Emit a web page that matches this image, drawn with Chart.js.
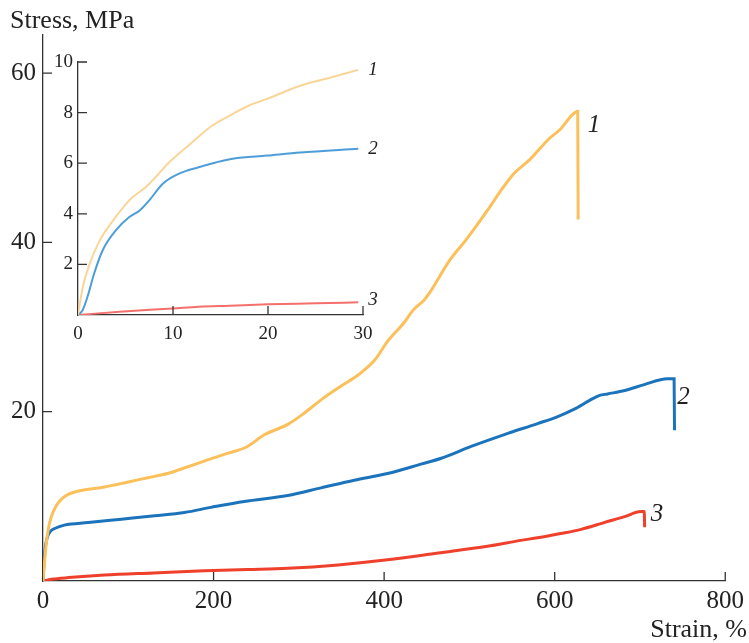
<!DOCTYPE html>
<html>
<head>
<meta charset="utf-8">
<script src="https://cdn.jsdelivr.net/npm/chart.js@4.4.1/dist/chart.umd.min.js"></script>
<style>
html,body{margin:0;padding:0;background:#fff;}
#wrap{position:relative;width:749px;height:643px;}
#main{position:absolute;left:0;top:0;}
#inset{position:absolute;left:40px;top:40px;}
</style>
</head>
<body>
<div id="wrap">
<canvas id="main" width="749" height="643"></canvas>
<canvas id="inset" width="360" height="310"></canvas>
</div>
<script>
/* ===== data ===== */
// main plot, strain %, stress MPa
const strain1=[0,2,3.9,6.5,9.8,13.5,17.6,23,29,45,72,100,123,146,170,193,217,238,260,287,306,326,349,369,389,404,424,434,447,453,477,496,524,536,551,571,594,606,620,627,627.5];
const stress1=[0,2.5,4.5,6.3,7.6,8.5,9.2,9.8,10.2,10.7,11.1,11.7,12.2,12.7,13.5,14.3,15.1,15.8,17.3,18.5,19.8,21.4,23.0,24.3,26.1,28.3,30.6,32.0,33.2,34.0,37.9,40.3,44.2,46.0,48.0,49.8,52.3,53.3,55.0,55.5,42.7];

const strain2=[0,1,2,3.5,5.9,9,13.7,25,53,92,131,166,197,236,287,326,365,404,443,467,502,541,580,603,623,642,652,662,682,705,732,740,740.5];
const stress2=[0,2,3.3,4.5,5.4,5.9,6.2,6.6,6.9,7.3,7.7,8.1,8.7,9.4,10.1,11.0,11.9,12.7,13.8,14.5,15.9,17.3,18.6,19.4,20.3,21.4,21.9,22.1,22.5,23.2,23.9,23.9,17.8];

const strain3=[0,10,30,72,130,189,240,287,346,404,463,521,560,580,607,631,658,682,701,705,705.5];
const stress3=[0,0.2,0.4,0.7,0.95,1.2,1.35,1.5,1.9,2.5,3.3,4.1,4.8,5.1,5.6,6.1,6.9,7.6,8.2,8.2,6.35];

// inset, first 30 %
const inStrain1=[0,0.5,1.2,2.3,3.7,5.4,7.5,9.6,10.6,12.0,14,16.3,18,19.9,23.4,26.8,29.5];
const inStress1=[0,1.1,2.0,2.95,3.74,4.53,5.18,6.04,6.37,6.82,7.45,7.95,8.28,8.54,9.06,9.41,9.69];
const inStrain2=[0,0.5,1.0,1.7,2.6,4.0,5.4,6.5,7.5,8.9,10.6,12.7,14.5,16.3,19.9,23.4,29.5];
const inStress2=[0,0.2,0.72,1.64,2.56,3.35,3.87,4.13,4.53,5.18,5.58,5.84,6.03,6.18,6.3,6.42,6.57];
const inStrain3=[0,4.4,10,12.7,16,20,25,29.5];
const inStress3=[0,0.13,0.26,0.33,0.37,0.42,0.46,0.5];

const xTicks=[0,200,400,600,800];
const yTicks=[20,40,60];
const inXTicks=[0,10,20,30];
const inYTicks=[2,4,6,8,10];
const curveNames=['1','2','3'];

/* ===== helpers ===== */
const serif='"Liberation Serif","Times New Roman",serif';
const pts=(xs,ys)=>xs.map((x,i)=>({x:x,y:ys[i]}));

// tick marks pointing into the plot
const innerTicks={id:'innerTicks',afterDraw(c,args,o){
const ctx=c.ctx,a=c.chartArea,xs=c.scales.x,ys=c.scales.y;
ctx.save();
ctx.strokeStyle='#333';ctx.lineWidth=1.3;
ctx.beginPath();
xs.ticks.forEach(t=>{
if(t.value===xs.min)return;
let p=xs.getPixelForValue(t.value);
ctx.moveTo(p,a.bottom);ctx.lineTo(p,a.bottom-o.len);
});
ys.ticks.forEach(t=>{
if(t.value===ys.min)return;
let p=ys.getPixelForValue(t.value);
ctx.moveTo(a.left,p);ctx.lineTo(a.left+o.len,p);
});
ctx.stroke();
ctx.restore();
}};

// curve numbers next to the end / peak of each curve
const curveLabels={id:'curveLabels',afterDraw(c,args,o){
const ctx=c.ctx,xs=c.scales.x,ys=c.scales.y;
ctx.save();
ctx.font=o.font;ctx.fillStyle='#222';
ctx.textAlign='left';ctx.textBaseline='middle';
c.data.datasets.forEach((ds,i)=>{
let pk=ds.data.reduce((m,p)=>p.y>m.y?p:m,ds.data[0]);
let off=o.offsets[i];
ctx.fillText(curveNames[i],xs.getPixelForValue(pk.x)+off[0],ys.getPixelForValue(pk.y)+off[1]);
});
ctx.restore();
}};

const axisTitles={id:'axisTitles',afterDraw(c){
const ctx=c.ctx;
ctx.save();
ctx.font='26px '+serif;ctx.fillStyle='#222';
ctx.textBaseline='alphabetic';
ctx.textAlign='left';ctx.fillText('Stress, MPa',10,28);
ctx.textAlign='right';ctx.fillText('Strain, %',747,637);
ctx.restore();
}};

function line(data,color,w){
return {data:data,borderColor:color,borderWidth:w,showLine:true,pointRadius:0,cubicInterpolationMode:'monotone',fill:false};
}

function axes(xMin,xMax,xT,yMin,yMax,yT,fs,xH,yW,xPad,yPad){
return {
x:{type:'linear',min:xMin,max:xMax,
afterBuildTicks:s=>{s.ticks=xT.map(v=>({value:v}))},
afterFit:s=>{s.height=xH},
grid:{display:false,drawTicks:false},
border:{display:true,color:'#333',width:1.3},
ticks:{font:{family:serif,size:fs},color:'#222',padding:xPad,maxRotation:0,autoSkip:false}},
y:{type:'linear',min:yMin,max:yMax,
afterBuildTicks:s=>{s.ticks=yT.map(v=>({value:v}))},
afterFit:s=>{s.width=yW},
grid:{display:false,drawTicks:false},
border:{display:true,color:'#333',width:1.3},
ticks:{font:{family:serif,size:fs},color:'#222',padding:yPad,autoSkip:false}}
};
}

/* ===== main chart ===== */
new Chart(document.getElementById('main'),{
type:'scatter',
data:{datasets:[
line(pts(strain1,stress1),'#fbc05a',3),
line(pts(strain2,stress2),'#1b74bb',3),
line(pts(strain3,stress3),'#ee402b',3)
]},
options:{
responsive:false,animation:false,events:[],
layout:{padding:{left:0,right:23,top:35,bottom:0}},
plugins:{legend:{display:false},tooltip:{enabled:false},
innerTicks:{len:9},
curveLabels:{font:'italic 25px '+serif,offsets:[[10,14],[10,19],[10,3]]}},
scales:axes(0,800,xTicks,0,64.5,yTicks,25,62,43,5,7)
},
plugins:[innerTicks,curveLabels,axisTitles]
});

/* ===== inset ===== */
new Chart(document.getElementById('inset'),{
type:'scatter',
data:{datasets:[
line(pts(inStrain1,inStress1),'#f9d598',2),
line(pts(inStrain2,inStress2),'#4d9ed8',2),
line(pts(inStrain3,inStress3),'#f3706c',2)
]},
options:{
responsive:false,animation:false,events:[],
layout:{padding:{left:0,right:37,top:22,bottom:0}},
plugins:{legend:{display:false},tooltip:{enabled:false},
innerTicks:{len:9},
curveLabels:{font:'italic 19px '+serif,offsets:[[10,0],[10,0],[10,-2]]}},
scales:axes(0,30,inXTicks,0,10,inYTicks,19,35,38,8,5)
},
plugins:[innerTicks,curveLabels]
});
</script>
</body>
</html>
